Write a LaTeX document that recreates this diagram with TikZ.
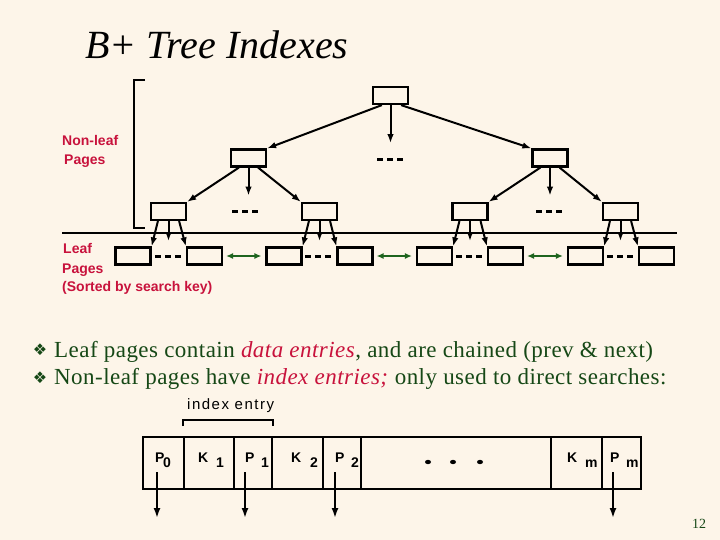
\documentclass[tikz,border=0pt]{standalone}
\usepackage{fontspec}
\setmainfont{Liberation Serif}
\setsansfont{Liberation Sans}
\newfontfamily\dejavu{DejaVu Sans}
\newfontfamily\spsans[LetterSpace=10]{Liberation Sans}
\newfontfamily\spserif[LetterSpace=2]{Liberation Serif}
\usetikzlibrary{arrows.meta}
\definecolor{bgc}{RGB}{253,245,233}
\definecolor{dgreen}{RGB}{22,72,22}
\definecolor{agreen}{RGB}{30,100,30}
\definecolor{crim}{RGB}{200,18,60}
\begin{document}
\begin{tikzpicture}[x=1pt,y=-1pt,
  pg/.style={draw,line width=2.2pt,minimum width=35pt,minimum height=17pt,inner sep=0pt},
  tarr/.style={line width=2pt,-{Latex[length=9pt,width=6.5pt]}},
  garr/.style={line width=1.8pt,agreen,{Latex[length=7pt,width=6pt]}-{Latex[length=7pt,width=6pt]}},
  dots/.style={line width=3pt,dash pattern=on 6pt off 4pt},
  lab/.style={anchor=base west,inner sep=0pt,crim,font=\sffamily\bfseries\fontsize{14}{16}\selectfont},
  cell/.style={anchor=base west,inner sep=0pt,font=\sffamily\bfseries\fontsize{14}{16}\selectfont},
  btext/.style={anchor=base west,inner sep=0pt,dgreen,font=\spserif\fontsize{23}{25}\selectfont},
  bul/.style={inner sep=0pt,dgreen,font=\dejavu\fontsize{16}{18}\selectfont},
  iarr/.style={line width=1.8pt,-{Latex[length=10pt,width=7pt]}}
]
\fill[bgc] (0,0) rectangle (720,540);
\useasboundingbox (0,0) rectangle (720,540);

% title
\node[anchor=base west,inner sep=0pt,font=\fontsize{40}{44}\selectfont\itshape] (title) at (85,59) {B+ Tree Indexes};

% bracket
\draw[line width=2pt] (145,80) -- (134,80) -- (134,228) -- (145,228);

% labels
\node[lab] (nl1) at (62,146) {Non-leaf};
\node[lab] (nl2) at (64,165) {Pages};
\node[lab] (lf1) at (63,253) {Leaf};
\node[lab] (lf2) at (62,273) {Pages};
\node[lab] (lf3) at (62,291) {(Sorted by search key)};

% tree nodes
\node[pg] (root) at (390.5,95.5) {};
\node[pg] (nL) at (248.5,158) {};
\node[pg] (nR) at (550,158) {};
\node[pg] (m1) at (168.5,211.5) {};
\node[pg] (m2) at (319.5,211.5) {};
\node[pg] (m3) at (470,211.5) {};
\node[pg] (m4) at (620.5,211.5) {};
\node[pg] (f1) at (133,256) {};
\node[pg] (f2) at (204.5,256) {};
\node[pg] (f3) at (284,256) {};
\node[pg] (f4) at (355,256) {};
\node[pg] (f5) at (434.5,256) {};
\node[pg] (f6) at (505.5,256) {};
\node[pg] (f7) at (585.5,256) {};
\node[pg] (f8) at (656.5,256) {};

% separator line
\draw[line width=2pt] (62,233) -- (677,233);

% root arrows
\draw[tarr] ([xshift=10pt]root.south west) -- (nL.north east);
\draw[tarr] ([xshift=-8pt]root.south east) -- (nR.north west);
\draw[tarr] (root.south) -- ([yshift=-38pt]root.south);
\draw[dots] (377,160) -- (403,160);

% level 2 arrows
\foreach \n/\a/\b in {nL/m1/m2, nR/m3/m4}{
  \draw[tarr] ([xshift=9pt]\n.south west) -- (\a.north east);
  \draw[tarr] ([xshift=-9pt]\n.south east) -- (\b.north west);
  \draw[tarr] (\n.south) -- ([yshift=-28pt]\n.south);
}
\draw[dots] (232,212) -- (258,212);
\draw[dots] (536,212) -- (562,212);

% level 3 arrows
\foreach \n/\a/\b in {m1/f1/f2, m2/f3/f4, m3/f5/f6, m4/f7/f8}{
  \draw[tarr] ([xshift=8pt]\n.south west) -- (\a.north east);
  \draw[tarr] ([xshift=-8pt]\n.south east) -- (\b.north west);
  \draw[tarr] (\n.south) -- ([yshift=-20pt]\n.south);
}
\draw[dots] (155,256) -- (181,256);
\draw[dots] (305,256) -- (331,256);
\draw[dots] (456,256) -- (482,256);
\draw[dots] (607,256) -- (633,256);

% leaf chain arrows
\draw[garr,shorten <=3pt,shorten >=4pt] (f2.east) -- (f3.west);
\draw[garr,shorten <=3pt,shorten >=4pt] (f4.east) -- (f5.west);
\draw[garr,shorten <=3pt,shorten >=4pt] (f6.east) -- (f7.west);

% bullets
\node[bul] (b1) at (40,350) {❖};
\node[bul] (b2) at (40,378) {❖};
\node[btext] (t1) at (54,357) {Leaf pages contain \textcolor{crim}{\textit{data entries}}, and are chained (prev \& next)};
\node[btext] (t2) at (54,384) {Non-leaf pages have \textcolor{crim}{\textit{index entries;}} only used to direct searches:};

% index entry
\node[anchor=base west,inner sep=0pt,font=\spsans\fontsize{15}{17}\selectfont] (ie) at (187,409) {index entry};
\draw[line width=1.8pt] (183,426) -- (183,420) -- (273,420) -- (273,426);

\node[draw,line width=2pt,minimum width=498pt,minimum height=52pt,inner sep=0pt] (ib) at (392,463) {};
\foreach \x in {184,234,272,323,361,551,602}{
  \draw[line width=2pt] (\x,437) -- (\x,489);
}
\node[cell] (p0) at (155,462) {P};
\node[cell] (p0s) at (163,467) {0};
\node[cell] (k1) at (198,462) {K};
\node[cell] (k1s) at (216,467) {1};
\node[cell] (p1) at (245,462) {P};
\node[cell] (p1s) at (261,467) {1};
\node[cell] (k2) at (291,462) {K};
\node[cell] (k2s) at (310,467) {2};
\node[cell] (p2) at (335,462) {P};
\node[cell] (p2s) at (351,467) {2};
\node[cell] (km) at (567,462) {K};
\node[cell] (kms) at (585,467) {m};
\node[cell] (pm) at (610,462) {P};
\node[cell] (pms) at (626,467) {m};
\foreach \x in {428,453,480}{
  \fill (\x,462) ellipse [x radius=3pt,y radius=2.2pt];
}
\foreach \i/\x in {0/157,1/245,2/335,3/613}{
  \coordinate (ia\i) at (\x,472);
  \coordinate (ib\i) at (\x,518);
  \draw[iarr] (ia\i) -- (ib\i);
}

% page number
\node[anchor=base west,inner sep=0pt,dgreen,font=\fontsize{14}{16}\selectfont] (pn) at (692,528) {12};
\end{tikzpicture}
\end{document}
